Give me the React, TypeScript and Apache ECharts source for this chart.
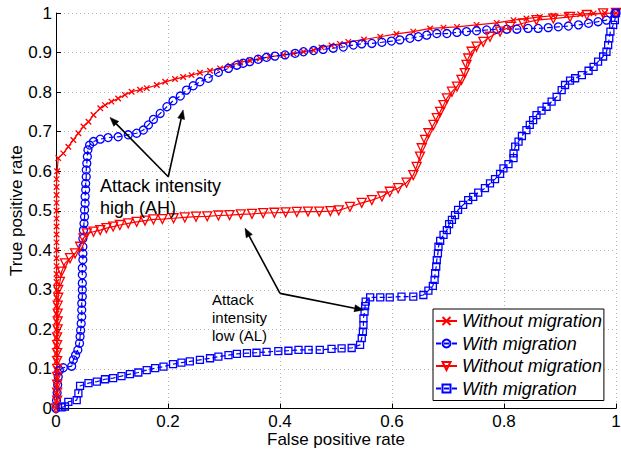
import React, { useEffect, useRef } from "react";
import * as echarts from "echarts";

// ---------------- data ----------------
const AH_WITHOUT: number[][] = [
  [0, 0], [0.001, 0.02], [0.001, 0.04], [0.001, 0.06], [0.001, 0.08], [0.001, 0.1], [0.001, 0.12], [0.001, 0.14],
  [0.001, 0.16], [0.001, 0.18], [0.001, 0.2], [0.001, 0.22], [0.001, 0.24], [0.001, 0.26], [0.001, 0.28], [0.001, 0.3],
  [0.001, 0.32], [0.001, 0.34], [0.001, 0.36], [0.001, 0.38], [0.001, 0.4], [0.001, 0.42], [0.001, 0.44], [0.001, 0.46],
  [0.001, 0.48], [0.001, 0.5], [0.001, 0.52], [0.001, 0.54], [0.001, 0.56], [0.001, 0.58], [0.002, 0.6], [0.004, 0.633],
  [0.013, 0.645], [0.022, 0.662], [0.031, 0.679], [0.04, 0.696], [0.049, 0.713], [0.058, 0.725], [0.067, 0.742],
  [0.079, 0.759], [0.0875, 0.767], [0.099, 0.776], [0.111, 0.784], [0.123, 0.793], [0.135, 0.801], [0.15, 0.806],
  [0.162, 0.81], [0.18, 0.818], [0.195, 0.826], [0.2125, 0.833], [0.227, 0.838], [0.242, 0.843], [0.257, 0.849],
  [0.275, 0.854], [0.293, 0.86], [0.311, 0.867], [0.329, 0.875], [0.346, 0.88], [0.364, 0.885], [0.382, 0.889],
  [0.406, 0.894], [0.424, 0.898], [0.442, 0.902], [0.46, 0.906], [0.474, 0.913], [0.492, 0.918], [0.507, 0.922],
  [0.522, 0.927], [0.55, 0.933], [0.579, 0.94], [0.608, 0.947], [0.638, 0.953], [0.668, 0.961], [0.692, 0.963],
  [0.716, 0.965], [0.751, 0.97], [0.787, 0.975], [0.817, 0.982], [0.84, 0.986], [0.864, 0.99], [0.888, 0.993],
  [0.912, 0.995], [0.936, 0.997], [0.96, 0.999], [0.98, 1], [1, 1],
];

const AH_WITH: number[][] = [
  [0, 0], [0.001, 0.02], [0.002, 0.04], [0.003, 0.06], [0.004, 0.08], [0.006, 0.097], [0.013, 0.103], [0.028, 0.107],
  [0.031, 0.123], [0.035, 0.135], [0.039, 0.148], [0.042, 0.165], [0.043, 0.182], [0.044, 0.198], [0.045, 0.215],
  [0.046, 0.232], [0.046, 0.249], [0.046, 0.266], [0.047, 0.283], [0.047, 0.3], [0.047, 0.317], [0.047, 0.338],
  [0.047, 0.355], [0.048, 0.376], [0.048, 0.392], [0.048, 0.409], [0.048, 0.43], [0.049, 0.451], [0.05, 0.468],
  [0.051, 0.485], [0.051, 0.502], [0.052, 0.519], [0.052, 0.536], [0.053, 0.553], [0.053, 0.569], [0.054, 0.586],
  [0.054, 0.603], [0.055, 0.62], [0.056, 0.637], [0.057, 0.654], [0.06, 0.666], [0.067, 0.675], [0.079, 0.681],
  [0.093, 0.685], [0.111, 0.687], [0.129, 0.692], [0.144, 0.696], [0.156, 0.704], [0.165, 0.717], [0.174, 0.731],
  [0.186, 0.746], [0.198, 0.763], [0.209, 0.778], [0.222, 0.79], [0.233, 0.805], [0.245, 0.816], [0.257, 0.826],
  [0.272, 0.835], [0.29, 0.85], [0.308, 0.86], [0.323, 0.868], [0.334, 0.873], [0.346, 0.877], [0.361, 0.883],
  [0.376, 0.888], [0.391, 0.891], [0.409, 0.894], [0.427, 0.898], [0.442, 0.902], [0.46, 0.905], [0.477, 0.908],
  [0.495, 0.911], [0.513, 0.914], [0.531, 0.919], [0.546, 0.922], [0.564, 0.923], [0.582, 0.926], [0.599, 0.929],
  [0.614, 0.932], [0.632, 0.936], [0.647, 0.94], [0.662, 0.944], [0.68, 0.948], [0.698, 0.948], [0.716, 0.951],
  [0.733, 0.953], [0.751, 0.955], [0.769, 0.957], [0.787, 0.959], [0.805, 0.959], [0.823, 0.959], [0.843, 0.961],
  [0.861, 0.961], [0.879, 0.963], [0.897, 0.965], [0.915, 0.967], [0.933, 0.97], [0.951, 0.974], [0.968, 0.978],
  [0.983, 0.982], [0.998, 0.999], [1, 1],
];

const AL_WITHOUT: number[][] = [
  [0, 0], [0.002, 0.02], [0.002, 0.04], [0.002, 0.06], [0.002, 0.08], [0.002, 0.1], [0.002, 0.12], [0.002, 0.14],
  [0.002, 0.16], [0.002, 0.18], [0.003, 0.2], [0.003, 0.22], [0.003, 0.24], [0.003, 0.26], [0.004, 0.28], [0.004, 0.3],
  [0.007, 0.32], [0.01, 0.346], [0.016, 0.367], [0.025, 0.38], [0.034, 0.392], [0.043, 0.409], [0.049, 0.43],
  [0.055, 0.443], [0.067, 0.447], [0.079, 0.451], [0.09, 0.456], [0.102, 0.46], [0.114, 0.464], [0.129, 0.468],
  [0.144, 0.472], [0.159, 0.475], [0.174, 0.478], [0.19, 0.479], [0.21, 0.481], [0.23, 0.483], [0.25, 0.485],
  [0.27, 0.486], [0.29, 0.488], [0.31, 0.489], [0.33, 0.491], [0.35, 0.492], [0.37, 0.494], [0.39, 0.495],
  [0.41, 0.496], [0.43, 0.497], [0.45, 0.498], [0.47, 0.498], [0.49, 0.499], [0.505, 0.501], [0.525, 0.51],
  [0.546, 0.52], [0.564, 0.527], [0.582, 0.536], [0.596, 0.548], [0.611, 0.557], [0.626, 0.571], [0.638, 0.59],
  [0.644, 0.611], [0.65, 0.637], [0.653, 0.658], [0.659, 0.679], [0.665, 0.696], [0.674, 0.717], [0.68, 0.734],
  [0.686, 0.75], [0.692, 0.767], [0.698, 0.784], [0.707, 0.801], [0.716, 0.814], [0.724, 0.831], [0.73, 0.848],
  [0.733, 0.869], [0.736, 0.885], [0.742, 0.902], [0.751, 0.915], [0.763, 0.927], [0.775, 0.94], [0.793, 0.953],
  [0.811, 0.965], [0.834, 0.974], [0.858, 0.982], [0.888, 0.986], [0.918, 0.99], [0.948, 0.995], [0.977, 0.999], [1, 1],
];

const AL_WITH: number[][] = [
  [0.01, 0.003], [0.016, 0.005], [0.022, 0.017], [0.037, 0.021], [0.04, 0.038], [0.043, 0.057], [0.058, 0.064],
  [0.073, 0.068], [0.0875, 0.074], [0.102, 0.077], [0.117, 0.082], [0.132, 0.087], [0.147, 0.091], [0.162, 0.097],
  [0.177, 0.102], [0.192, 0.106], [0.209, 0.112], [0.224, 0.116], [0.239, 0.119], [0.257, 0.123], [0.275, 0.127],
  [0.29, 0.131], [0.308, 0.135], [0.323, 0.138], [0.341, 0.14], [0.358, 0.141], [0.376, 0.143], [0.397, 0.145],
  [0.415, 0.146], [0.433, 0.148], [0.451, 0.148], [0.471, 0.148], [0.492, 0.151], [0.51, 0.152], [0.528, 0.153],
  [0.543, 0.161], [0.546, 0.178], [0.548, 0.194], [0.549, 0.211], [0.549, 0.228], [0.551, 0.245], [0.552, 0.259],
  [0.553, 0.27], [0.561, 0.281], [0.579, 0.281], [0.596, 0.281], [0.617, 0.283], [0.638, 0.283], [0.656, 0.287],
  [0.665, 0.298], [0.673, 0.31], [0.676, 0.325], [0.677, 0.342], [0.679, 0.359], [0.68, 0.375], [0.682, 0.392],
  [0.683, 0.409], [0.686, 0.424], [0.692, 0.439], [0.698, 0.451], [0.702, 0.466], [0.707, 0.477], [0.7125, 0.489],
  [0.718, 0.502], [0.727, 0.515], [0.736, 0.527], [0.745, 0.535], [0.754, 0.546], [0.766, 0.557], [0.775, 0.569],
  [0.784, 0.58], [0.793, 0.593], [0.799, 0.607], [0.808, 0.618], [0.817, 0.633], [0.817, 0.645], [0.82, 0.662],
  [0.826, 0.675], [0.832, 0.689], [0.84, 0.704], [0.846, 0.717], [0.852, 0.729], [0.858, 0.742], [0.867, 0.753],
  [0.876, 0.763], [0.885, 0.776], [0.894, 0.788], [0.903, 0.805], [0.909, 0.818], [0.918, 0.829], [0.927, 0.835],
  [0.939, 0.843], [0.951, 0.854], [0.96, 0.864], [0.968, 0.877], [0.977, 0.89], [0.983, 0.902], [0.986, 0.919],
  [0.988, 0.936], [0.99, 0.953], [0.995, 0.97], [0.998, 0.982], [1, 1],
];

const SERIES_NAMES = [
  "Without migration (AH)",
  "With migration (AH)",
  "Without migration (AL)",
  "With migration (AL)",
];

// annotations (data coordinates)
const AH_TEXT = ["Attack intensity", "high (AH)"];
const AH_TEXT_POS = [[0.0786, 0.5626], [0.0786, 0.508]];
const AH_ARROW_FROM = [0.2005, 0.586];
const AH_ARROW_TO = [[0.0964, 0.736], [0.227, 0.755]];

const AL_TEXT = ["Attack", "intensity", "low (AL)"];
const AL_TEXT_POS = [[0.2786, 0.2756], [0.2786, 0.23], [0.2786, 0.1846]];
const AL_ARROW_FROM = [0.4, 0.291];
const AL_ARROW_TO = [[0.3375, 0.456], [0.549, 0.249]];

const X_LABEL = "False positive rate";
const Y_LABEL = "True positive rate";

const FONT = "'Liberation Sans', Arial, Helvetica, sans-serif";
const RED = "#ff0000";
const BLUE = "#0000ff";

function fmt(v: number) {
  return String(Math.round(v * 10) / 10);
}

export default function App() {
  const ref = useRef<HTMLDivElement>(null);

  useEffect(() => {
    if (!ref.current) return;
    const chart = echarts.init(ref.current, undefined, { renderer: "svg" });

    const mk = (
      name: string,
      data: number[][],
      color: string,
      symbol: string,
      size: number,
      dashed: boolean,
      rotate = 0
    ) => ({
      name,
      type: "line",
      data,
      showSymbol: true,
      showAllSymbol: true,
      symbol,
      symbolSize: size,
      symbolRotate: rotate,
      lineStyle: { color, width: 1.2, type: dashed ? [5, 3] : "solid" },
      itemStyle: { color: "rgba(0,0,0,0)", borderColor: color, borderWidth: 1.3 },
      emphasis: { disabled: true },
      z: 2,
    });

    const option: any = {
      animation: false,
      backgroundColor: "#ffffff",
      grid: {
        left: 56,
        right: 5,
        top: 13,
        bottom: 41.5,
        containLabel: false,
        outerBoundsMode: "none",
      },
      xAxis: {
        type: "value",
        min: 0,
        max: 1,
        interval: 0.2,
        name: X_LABEL,
        nameLocation: "middle",
        nameGap: 22.5,
        nameMoveOverlap: false,
        nameTextStyle: { fontSize: 17, color: "#000", fontFamily: FONT },
        axisLine: { show: true, lineStyle: { color: "#000", width: 1 } },
        axisTick: { show: true, inside: true, length: 5, lineStyle: { color: "#000" } },
        axisLabel: { fontSize: 17, color: "#000", fontFamily: FONT, margin: 4, formatter: fmt },
        splitLine: { show: true, lineStyle: { color: "#b4b4b4", type: [1, 3], width: 1 } },
      },
      yAxis: {
        type: "value",
        min: 0,
        max: 1,
        interval: 0.1,
        name: Y_LABEL,
        nameLocation: "middle",
        nameGap: 31,
        nameMoveOverlap: false,
        nameTextStyle: { fontSize: 17, color: "#000", fontFamily: FONT },
        axisLine: { show: true, lineStyle: { color: "#000", width: 1 } },
        axisTick: { show: true, inside: true, length: 5, lineStyle: { color: "#000" } },
        axisLabel: { fontSize: 17, color: "#000", fontFamily: FONT, margin: 4, formatter: fmt },
        splitLine: { show: true, lineStyle: { color: "#b4b4b4", type: [1, 3], width: 1 } },
      },
      legend: {
        orient: "vertical",
        left: 433,
        top: 309,
        padding: [3, 2, 3, 2],
        itemGap: 4.5,
        itemWidth: 21,
        itemHeight: 10,
        borderColor: "#000",
        borderWidth: 1,
        borderRadius: 0,
        backgroundColor: "#fff",
        selectedMode: false,
        data: SERIES_NAMES,
        formatter: (name: string) => name.split(" (")[0],
        textStyle: { fontSize: 18, fontStyle: "italic", color: "#000", fontFamily: FONT },
      },
      series: [
        mk(SERIES_NAMES[0], AH_WITHOUT, RED, "path://M0,0L10,10M10,0L0,10", 5.5, false),
        mk(SERIES_NAMES[1], AH_WITH, BLUE, "circle", 8, true),
        mk(SERIES_NAMES[2], AL_WITHOUT, RED, "triangle", 9, false, 180),
        mk(SERIES_NAMES[3], AL_WITH, BLUE, "rect", 7, true),
      ],
    };
    chart.setOption(option);

    const px = (p: number[]) => chart.convertToPixel({ gridIndex: 0 }, p) as number[];
    const graphics: any[] = [];
    const arrow = (from: number[], to: number[]) => {
      const a = px(from);
      const b = px(to);
      const dx = b[0] - a[0];
      const dy = b[1] - a[1];
      const len = Math.sqrt(dx * dx + dy * dy);
      const ux = dx / len;
      const uy = dy / len;
      const hl = 9;
      const hw = 3.5;
      const bx = b[0] - ux * hl;
      const by = b[1] - uy * hl;
      graphics.push({
        type: "line",
        shape: { x1: a[0], y1: a[1], x2: bx, y2: by },
        style: { stroke: "#000", lineWidth: 1.6 },
        z: 10,
      });
      graphics.push({
        type: "polygon",
        shape: {
          points: [
            [b[0], b[1]],
            [bx - uy * hw, by + ux * hw],
            [bx + uy * hw, by - ux * hw],
          ],
        },
        style: { fill: "#000", stroke: "#000", lineWidth: 0.5 },
        z: 10,
      });
    };
    AH_ARROW_TO.forEach((t) => arrow(AH_ARROW_FROM, t));
    AL_ARROW_TO.forEach((t) => arrow(AL_ARROW_FROM, t));
    const addText = (txt: string, pos: number[], size: number) => {
      const p = px(pos);
      graphics.push({
        type: "text",
        x: p[0],
        y: p[1],
        z: 10,
        style: {
          text: txt,
          fontSize: size,
          fontFamily: FONT,
          fill: "#000",
          align: "left",
          verticalAlign: "middle",
        },
      });
    };
    AH_TEXT.forEach((t, i) => addText(t, AH_TEXT_POS[i], 18));
    AL_TEXT.forEach((t, i) => addText(t, AL_TEXT_POS[i], 15));
    chart.setOption({ graphic: graphics });

    return () => chart.dispose();
  }, []);

  return (
    <div
      ref={ref}
      style={{ position: "fixed", left: 0, top: 0, width: 621, height: 450 }}
    />
  );
}
